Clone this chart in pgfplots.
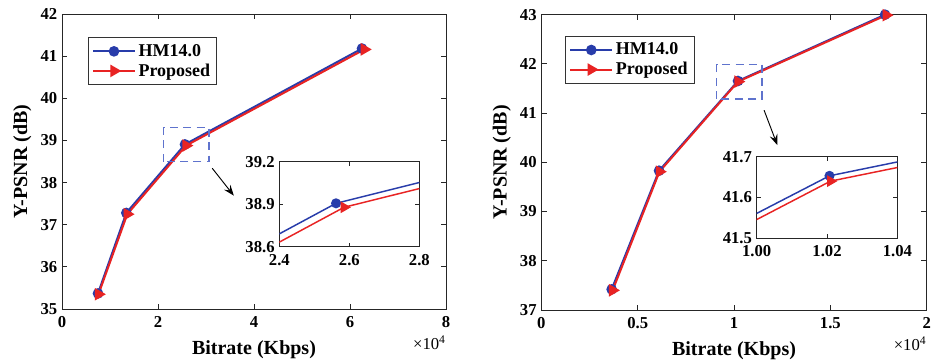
\documentclass[border=0pt]{standalone}
\usepackage{fontspec}
\setmainfont{Liberation Serif}
\usepackage{pgfplots}
\usepackage{pgfplotstable}
\pgfplotsset{compat=1.18}
\usetikzlibrary{arrows.meta}
\definecolor{hmblue}{RGB}{40,60,170}
\definecolor{prred}{RGB}{232,35,35}
\definecolor{boxblue}{RGB}{95,115,205}

% Left chart (bitrate in units of 10^4 kbps)
\pgfplotstableread{
x y
0.75 35.37
1.34 37.28
2.562 38.906
6.25 41.18
}\hmA
\pgfplotstableread{
x y
0.76 35.35
1.36 37.25
2.585 38.878
6.30 41.16
}\prA
% Right chart
\pgfplotstableread{
x y
0.365 37.42
0.611 39.83
1.0207 41.653
1.784 43.00
}\hmB
\pgfplotstableread{
x y
0.370 37.40
0.613 39.81
1.021 41.640
1.790 42.99
}\prB

\tikzset{
  zoombox/.style={boxblue, line width=1pt, dash pattern=on 6pt off 4pt},
  zoomarrow/.style={-{Stealth[length=8pt,width=6pt,inset=3pt]}, line width=0.7pt},
}
\pgfplotsset{
  base/.style={
    scale only axis, anchor=south west,
    tick align=inside,
    axis line style={black!85, line width=0.6pt},
    tick style={black!85, line width=0.6pt},
    major tick length=4pt,
    /pgf/number format/assume math mode=true,
    ticklabel style={font=\fontsize{12.5}{14}\selectfont\bfseries},
    xticklabel style={yshift=-2pt},
    label style={font=\fontsize{15}{17}\selectfont\bfseries},
  },
  mainleg/.style={
    legend cell align=left,
    legend style={draw=black!80, line width=0.6pt, font=\fontsize{13.5}{15}\selectfont\bfseries,
      anchor=north west, inner xsep=3pt, inner ysep=3pt, row sep=0pt},
    legend image code/.code={\draw[mark repeat=2,mark phase=2,##1] plot coordinates {(0cm,0cm) (0.55cm,0cm) (1.1cm,0cm)};},
    xlabel style={yshift=-3pt},
  },
  inset/.style={
    base, axis background/.style={fill=white}, clip marker paths=true,
    major tick length=3pt,
  },
  hm/.style={color=hmblue, line width=1.5pt, mark=*, mark size=3.2pt},
  pr/.style={color=prred, line width=1.5pt, mark=triangle*, mark size=4pt, mark options={rotate=-90}},
  hmi/.style={color=hmblue, line width=1.1pt, mark=*, mark size=3.2pt},
  pri/.style={color=prred, line width=1.1pt, mark=triangle*, mark size=4pt, mark options={rotate=-90}},
}

\begin{document}
\begin{tikzpicture}
\useasboundingbox (0,0) rectangle (700.5pt,271.5pt);

% ---------------- Left main axis ----------------
\begin{axis}[base, mainleg, name=L,
  at={(46.5pt,39.75pt)}, width=288pt, height=221.25pt,
  xmin=0, xmax=8, ymin=35, ymax=42,
  xtick={0,2,4,6,8}, ytick={35,36,37,38,39,40,41,42},
  xlabel={Bitrate (Kbps)}, ylabel={Y-PSNR (dB)},
  legend style={at={(0.067,0.921)}},
]
\addplot[hm] table {\hmA};
\addlegendentry{HM14.0}
\addplot[pr] table {\prA};
\addlegendentry{Proposed}
\draw[zoombox] (axis cs:2.12,38.5) rectangle (axis cs:3.06,39.3);
\draw[zoomarrow] (axis cs:3.13,38.34) -- (axis cs:3.58,37.69);
\end{axis}
\node[anchor=north east, inner sep=0pt, yshift=-20pt, font=\fontsize{12.5}{14}\selectfont] at (L.south east) {×10\textsuperscript{4}};

% ---------------- Left inset ----------------
\begin{axis}[inset,
  at={(209.5pt,86.5pt)}, width=105pt, height=63.75pt,
  xmin=2.4, xmax=2.8, ymin=38.6, ymax=39.2,
  xtick={2.4,2.6,2.8}, ytick={38.6,38.9,39.2},
  xticklabel style={/pgf/number format/.cd, fixed, precision=1, fixed zerofill},
  yticklabel style={/pgf/number format/.cd, fixed, precision=1, fixed zerofill},
]
\addplot[hmi] table {\hmA};
\addplot[pri] table {\prA};
\end{axis}

% ---------------- Right main axis ----------------
\begin{axis}[base, mainleg, name=R,
  at={(406pt,39pt)}, width=289pt, height=221.5pt,
  xmin=0, xmax=2, ymin=37, ymax=43,
  xtick={0,0.5,1,1.5,2}, ytick={37,38,39,40,41,42,43},
  xlabel={Bitrate (Kbps)}, ylabel={Y-PSNR (dB)},
  legend style={at={(0.0615,0.928)}},
]
\addplot[hm] table {\hmB};
\addlegendentry{HM14.0}
\addplot[pr] table {\prB};
\addlegendentry{Proposed}
\draw[zoombox] (axis cs:0.91,41.29) rectangle (axis cs:1.145,41.99);
\draw[zoomarrow] (axis cs:1.156,41.06) -- (axis cs:1.225,40.35);
\end{axis}
\node[anchor=north east, inner sep=0pt, yshift=-20pt, font=\fontsize{12.5}{14}\selectfont] at (R.south east) {×10\textsuperscript{4}};

% ---------------- Right inset ----------------
\begin{axis}[inset,
  at={(567.5pt,92.8pt)}, width=105.5pt, height=61.2pt,
  xmin=1.0, xmax=1.04, ymin=41.5, ymax=41.7,
  xtick={1.00,1.02,1.04}, ytick={41.5,41.6,41.7},
  xticklabel style={/pgf/number format/.cd, fixed, precision=2, fixed zerofill},
  yticklabel style={/pgf/number format/.cd, fixed, precision=1, fixed zerofill},
]
\addplot[hmi] table {\hmB};
\addplot[pri] table {\prB};
\end{axis}
\end{tikzpicture}
\end{document}
